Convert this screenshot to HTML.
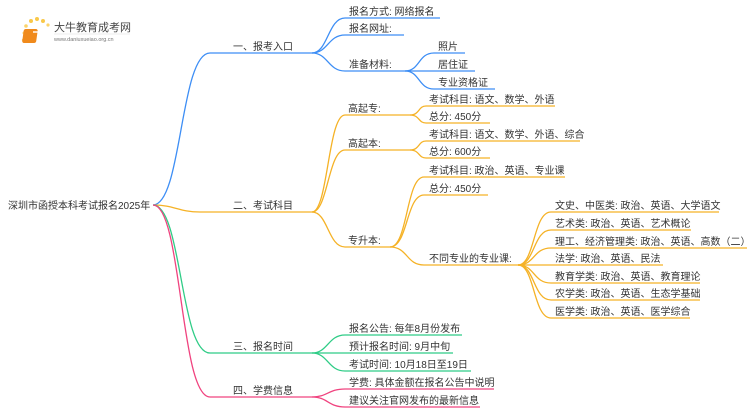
<!DOCTYPE html>
<html><head><meta charset="utf-8"><style>
html,body{margin:0;padding:0;background:#fff}
svg{display:block}
text{font-family:"Liberation Sans","Noto Sans CJK SC",sans-serif;font-size:10px;fill:#333}
path{fill:none;stroke-width:1.3}
.b{stroke:#3d8ef5}.o{stroke:#f5b226}.g{stroke:#2fcc86}.p{stroke:#f0437f}
</style></head><body>
<svg width="750" height="410" viewBox="0 0 750 410">
<g>
<circle cx="24" cy="33" r="1.5" fill="#fbd36a"/><circle cx="26" cy="26" r="1.8" fill="#fbd36a"/>
<circle cx="31" cy="21" r="2" fill="#f9c84a"/><circle cx="37" cy="19" r="2" fill="#f9c84a"/>
<circle cx="43" cy="21" r="2" fill="#f9c84a"/><circle cx="48" cy="25" r="1.6" fill="#fbd36a"/>
<circle cx="23" cy="40" r="1.2" fill="#fbd36a"/>
<rect x="28" y="29" width="14" height="14" rx="2" fill="#f08a1c" transform="skewX(-8)"/>
<rect x="33" y="31" width="9" height="2" fill="#fff" opacity=".7"/>
<text x="54" y="31" style="font-size:11px;fill:#444">大牛教育成考网</text>
<text x="54" y="41" style="font-size:5.5px;fill:#777">www.daniuxueiao.org.cn</text>
<line x1="54" y1="34" x2="130" y2="34" stroke="#ddd" stroke-width=".6"/>
</g>
<text x="8" y="209">深圳市函授本科考试报名2025年</text>
<path class="b" d="M153,205 C182,205 180,53 210,53 H312"/>
<path class="o" d="M153,205 C175,205 178,212 200,212 H312"/>
<path class="g" d="M153,205 C182,205 180,353 210,353 H312"/>
<path class="p" d="M153,205 C182,205 180,397 210,397 H312"/>
<text x="233" y="50">一、报考入口</text>
<text x="233" y="209">二、考试科目</text>
<text x="233" y="350">三、报名时间</text>
<text x="233" y="394">四、学费信息</text>
<path class="b" d="M312,53 C328,53 328,18 345,18 H440"/>
<path class="b" d="M312,53 C328,53 328,35 345,35 H404"/>
<path class="b" d="M312,53 C328,53 328,71 345,71 H405"/>
<text x="349" y="15">报名方式: 网络报名</text>
<text x="349" y="32">报名网址:</text>
<text x="349" y="68">准备材料:</text>
<path class="b" d="M405,71 C420,71 418,53 434,53 H465"/>
<path class="b" d="M405,71 H475"/>
<path class="b" d="M405,71 C420,71 418,89 434,89 H495"/>
<text x="438" y="50">照片</text>
<text x="438" y="68">居住证</text>
<text x="438" y="86">专业资格证</text>
<path class="o" d="M312,212 C328,212 328,115 345,115 H410"/>
<path class="o" d="M312,212 C328,212 328,150 345,150 H410"/>
<path class="o" d="M312,212 C328,212 328,247 345,247 H390"/>
<text x="348" y="112">高起专:</text>
<text x="348" y="147">高起本:</text>
<text x="348" y="244">专升本:</text>
<path class="o" d="M410,115 C420,115 418,106 426,106 H555"/>
<path class="o" d="M410,115 C420,115 418,123 426,123 H490"/>
<text x="429" y="103">考试科目: 语文、数学、外语</text>
<text x="429" y="120">总分: 450分</text>
<path class="o" d="M410,150 C420,150 418,141 426,141 H580"/>
<path class="o" d="M410,150 C420,150 418,158 426,158 H490"/>
<text x="429" y="138">考试科目: 语文、数学、外语、综合</text>
<text x="429" y="155">总分: 600分</text>
<path class="o" d="M390,247 C408,247 406,177 424,177 H565"/>
<path class="o" d="M390,247 C408,247 406,195 424,195 H488"/>
<path class="o" d="M390,247 C408,247 406,265 424,265 H518"/>
<text x="429" y="174">考试科目: 政治、英语、专业课</text>
<text x="429" y="192">总分: 450分</text>
<text x="429" y="262">不同专业的专业课:</text>
<path class="o" d="M518,265 C535,265 533,212 551,212 H719"/>
<path class="o" d="M518,265 C535,265 533,230 551,230 H691"/>
<path class="o" d="M518,265 C535,265 533,248 551,248 H747"/>
<path class="o" d="M518,265 H663"/>
<path class="o" d="M518,265 C535,265 533,283 551,283 H700"/>
<path class="o" d="M518,265 C535,265 533,300 551,300 H700"/>
<path class="o" d="M518,265 C535,265 533,318 551,318 H690"/>
<text x="555" y="209">文史、中医类: 政治、英语、大学语文</text>
<text x="555" y="227">艺术类: 政治、英语、艺术概论</text>
<text x="555" y="245">理工、经济管理类: 政治、英语、高数（二）</text>
<text x="555" y="262">法学: 政治、英语、民法</text>
<text x="555" y="280">教育学类: 政治、英语、教育理论</text>
<text x="555" y="297">农学类: 政治、英语、生态学基础</text>
<text x="555" y="315">医学类: 政治、英语、医学综合</text>
<path class="g" d="M312,353 C328,353 328,335 345,335 H462"/>
<path class="g" d="M312,353 H453"/>
<path class="g" d="M312,353 C328,353 328,371 345,371 H471"/>
<text x="349" y="332">报名公告: 每年8月份发布</text>
<text x="349" y="350">预计报名时间: 9月中旬</text>
<text x="349" y="368">考试时间: 10月18日至19日</text>
<path class="p" d="M312,397 C328,397 328,389 345,389 H494"/>
<path class="p" d="M312,397 C328,397 328,407 345,407 H480"/>
<text x="349" y="386">学费: 具体金额在报名公告中说明</text>
<text x="349" y="404">建议关注官网发布的最新信息</text>
</svg>
</body></html>
